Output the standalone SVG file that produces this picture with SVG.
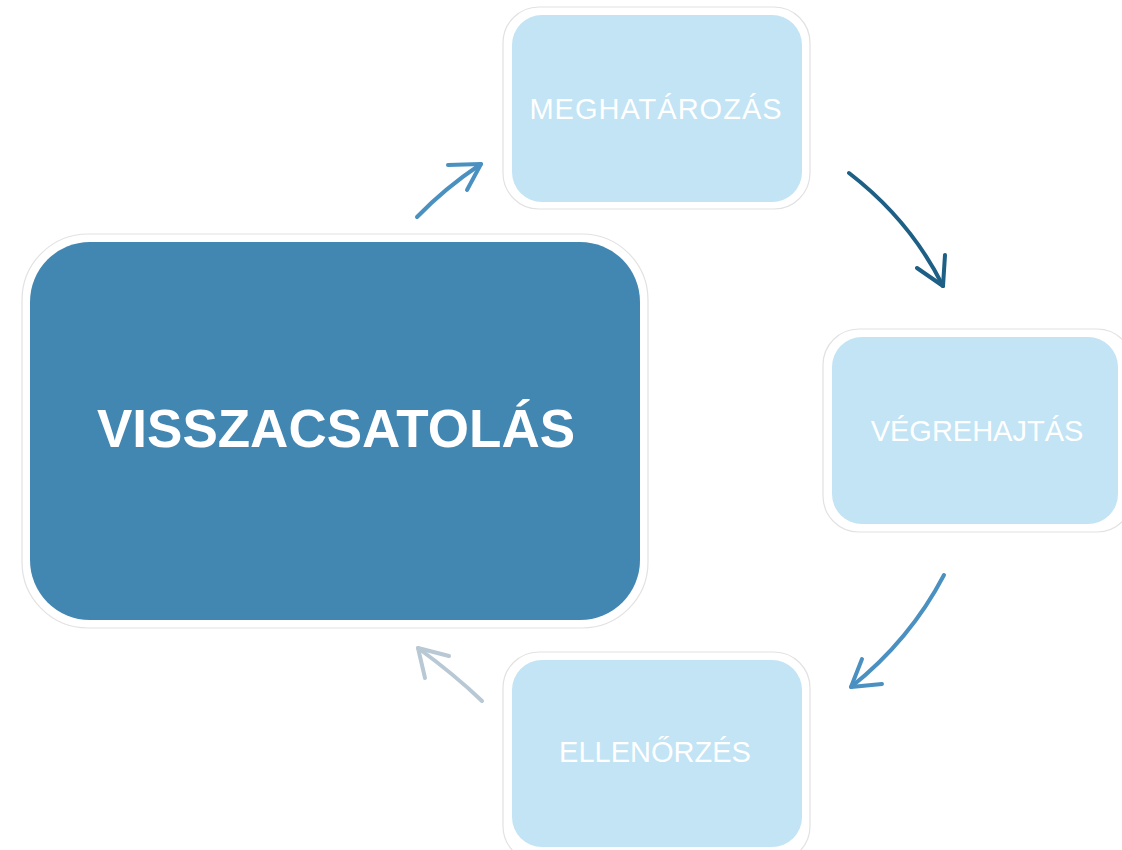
<svg xmlns="http://www.w3.org/2000/svg" width="1122" height="850" viewBox="0 0 1122 850">
<style>
.outer{fill:#ffffff;stroke:#e2e2e2;stroke-width:1.2}
.light{fill:#c2e4f4}
.dark{fill:#4286b2}
.lbl{font-family:"Liberation Sans",Arial,sans-serif;font-size:29px;fill:#ffffff;text-anchor:middle}
.big{font-family:"Liberation Sans",Arial,sans-serif;font-size:53px;font-weight:bold;fill:#ffffff;text-anchor:middle}
.arr{fill:none;stroke-width:4;stroke-linecap:round;stroke-linejoin:round}
</style>
<rect width="1122" height="850" fill="#ffffff"/>
<g id="node-visszacsatolas">
<rect class="outer" x="22" y="234" width="626" height="394" rx="66"/>
<rect class="dark" x="30" y="242" width="610" height="378" rx="60"/>
<text class="big" x="336" y="447">VISSZACSATOLÁS</text>
</g>
<g id="node-meghatarozas">
<rect class="outer" x="503" y="7" width="307" height="202" rx="36"/>
<rect class="light" x="512" y="15" width="290" height="187" rx="30"/>
<text class="lbl" x="656" y="119" letter-spacing="1">MEGHATÁROZÁS</text>
</g>
<g id="node-vegrehajtas">
<rect class="outer" x="823" y="329" width="310" height="203" rx="36"/>
<rect class="light" x="832" y="337" width="286" height="187" rx="30"/>
<text class="lbl" x="977" y="441">VÉGREHAJTÁS</text>
</g>
<g id="node-ellenorzes">
<rect class="outer" x="503" y="652" width="307" height="210" rx="36"/>
<rect class="light" x="512" y="660" width="290" height="187" rx="30"/>
<text class="lbl" x="655" y="762">ELLENŐRZÉS</text>
</g>
<g id="connectors">
<g stroke="#4a90c0" class="arr">
<path d="M417,217 Q445,188 481,164"/>
<path d="M448,165 L481,164 L467,190"/>
</g>
<g stroke="#1e5f85" class="arr">
<path d="M849,173 Q910,220 943,286"/>
<path d="M917,268 L943,286 L945,255"/>
</g>
<g stroke="#4a90c0" class="arr">
<path d="M944,575 Q910,640 851,687"/>
<path d="M862,659 L851,687 L882,684"/>
</g>
<g stroke="#b8c8d4" class="arr">
<path d="M482,701 Q455,675 418,648"/>
<path d="M449,656 L418,648 L425,678"/>
</g>
</g>
</svg>
